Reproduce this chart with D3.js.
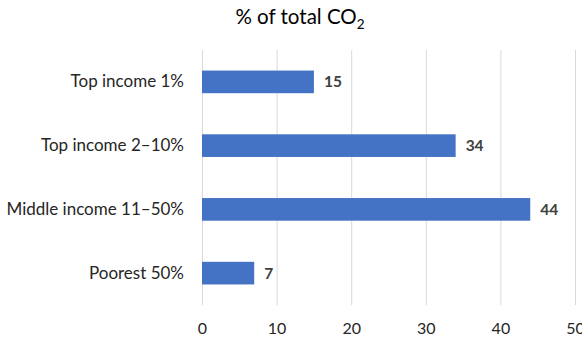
<!DOCTYPE html>
<html><head><meta charset="utf-8">
<script src="https://cdn.jsdelivr.net/npm/d3@7"></script>
<style>body{margin:0;background:#fff;} svg{display:block;}</style>
</head><body>
<svg id="c" width="582" height="339"></svg>
<script>
const categories = ["Top income 1%", "Top income 2–10%", "Middle income 11–50%", "Poorest 50%"];
const values = [15, 34, 44, 7];
const ticks = [0, 10, 20, 30, 40, 50];

const svg = d3.select("#c");
const font = "Lato, 'Open Sans', sans-serif";
const x = d3.scaleLinear().domain([0, 50]).range([202, 575]);
const y = d3.scaleBand().domain(categories).range([50, 305]).paddingInner(0.645).paddingOuter(0.3225);

// gridlines
svg.append("g").selectAll("line").data(ticks).join("line")
  .attr("x1", d => x(d) + 0.5).attr("x2", d => x(d) + 0.5)
  .attr("y1", 50).attr("y2", 305)
  .attr("stroke", "#d9d9d9").attr("stroke-width", 1);

// x axis labels
const xa = svg.append("g").attr("transform", "translate(0,305)")
  .call(d3.axisBottom(x).tickValues(ticks).tickSize(0).tickPadding(18).tickFormat(d3.format("d")));
xa.select(".domain").remove();
xa.selectAll("text").attr("font-family", font).attr("font-size", 16).attr("fill", "#262626");

// y axis labels
const ya = svg.append("g").attr("transform", "translate(202,0)")
  .call(d3.axisLeft(y).tickSize(0).tickPadding(18));
ya.select(".domain").remove();
ya.selectAll("text").attr("font-family", font).attr("font-size", 17).attr("fill", "#262626");

// bars
svg.append("g").selectAll("rect").data(values).join("rect")
  .attr("x", x(0)).attr("y", (d, i) => y(categories[i]))
  .attr("width", d => x(d) - x(0)).attr("height", y.bandwidth())
  .attr("fill", "#4472c4");

// value labels
svg.append("g").selectAll("text").data(values).join("text")
  .attr("x", d => x(d) + 10).attr("y", (d, i) => y(categories[i]) + y.bandwidth() / 2)
  .attr("dy", "0.35em")
  .attr("font-family", font).attr("font-size", 15.5).attr("font-weight", "bold").attr("fill", "#404040")
  .text(d => d);

// title
const t = svg.append("text").attr("x", 300).attr("y", 24).attr("text-anchor", "middle")
  .attr("font-family", font).attr("font-size", 20.5).attr("fill", "#000");
t.append("tspan").text("% of total CO");
t.append("tspan").attr("font-size", 13.5).attr("dy", 5).text("2");
</script>
</body></html>
